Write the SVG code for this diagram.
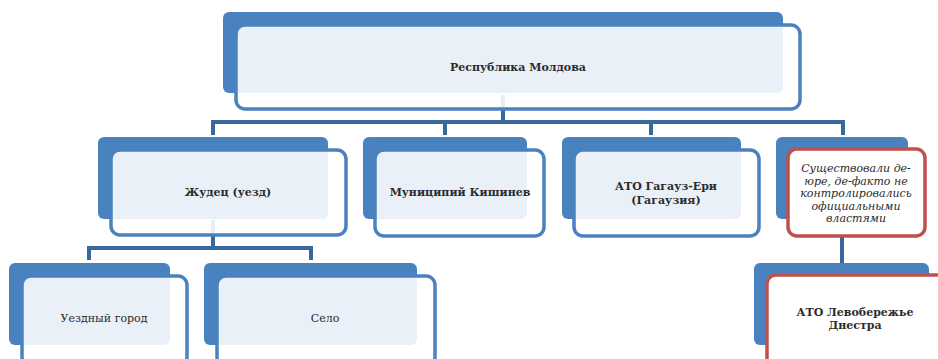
<svg xmlns="http://www.w3.org/2000/svg" width="938" height="359" viewBox="0 0 938 359">
<style>
.back{fill:#4a81bf}
.front{fill:#ffffff;fill-opacity:0.88;stroke:#4a81bf;stroke-width:3.5}
.red{fill:#ffffff;stroke:#c0504d;stroke-width:3.5}
.conn{fill:none;stroke:#37689b;stroke-width:4}
.t{font-family:"DejaVu Serif","Liberation Serif",serif;font-size:11px;fill:#2b2b2b;text-anchor:middle;dominant-baseline:central}
.b{font-weight:bold}
.i{font-style:italic}
</style>
<rect width="938" height="359" fill="#ffffff"/>
<g id="connectors">
<path class="conn" d="M503,95 V122"/>
<path class="conn" d="M213,135 V122 H843 V135"/>
<path class="conn" d="M445,122 V135"/>
<path class="conn" d="M651,122 V135"/>
<path class="conn" d="M213,220 V248"/>
<path class="conn" d="M89,260 V248 H311 V260"/>
<path class="conn" d="M842,237 V263"/>
</g>
<g id="n-moldova">
<rect class="back" x="223" y="12" width="560" height="81" rx="6"/>
<rect class="front" x="236" y="25" width="564" height="84" rx="9"/>
<text class="t b" x="518" y="67">Республика Молдова</text>
</g>
<g id="n-judet">
<rect class="back" x="98" y="137" width="230" height="82" rx="6"/>
<rect class="front" x="111" y="150" width="235" height="85" rx="9"/>
<text class="t b" x="228" y="192">Жудец (уезд)</text>
</g>
<g id="n-chisinau">
<rect class="back" x="363" y="137" width="164" height="82" rx="6"/>
<rect class="front" x="375" y="150" width="169" height="86" rx="9"/>
<text class="t b" x="460" y="192">Муниципий Кишинев</text>
</g>
<g id="n-gagauz">
<rect class="back" x="562" y="137" width="179" height="82" rx="6"/>
<rect class="front" x="574" y="150" width="185" height="86" rx="9"/>
<text class="t b" x="666" y="186">АТО Гагауз-Ери</text>
<text class="t b" x="666" y="200">(Гагаузия)</text>
</g>
<g id="n-dejure">
<rect class="back" x="776" y="137" width="132" height="82" rx="6"/>
<rect class="red" x="788" y="149" width="137" height="87" rx="9"/>
<text class="t i" x="856" y="168">Существовали де-</text>
<text class="t i" x="856" y="181">юре, де-факто не</text>
<text class="t i" x="856" y="193">контролировались</text>
<text class="t i" x="856" y="206">официальными</text>
<text class="t i" x="856" y="218">властями</text>
</g>
<g id="n-town">
<rect class="back" x="9" y="263" width="161" height="82" rx="6"/>
<rect class="front" x="22" y="276" width="165" height="90" rx="9"/>
<text class="t" x="104" y="318">Уездный город</text>
</g>
<g id="n-village">
<rect class="back" x="204" y="263" width="213" height="82" rx="6"/>
<rect class="front" x="217" y="276" width="218" height="90" rx="9"/>
<text class="t" x="325" y="318">Село</text>
</g>
<g id="n-transnistria">
<rect class="back" x="754" y="263" width="175" height="82" rx="6"/>
<rect class="red" x="767" y="275" width="190" height="95" rx="9"/>
<text class="t b" x="855" y="312">АТО Левобережье</text>
<text class="t b" x="855" y="325">Днестра</text>
</g>
</svg>
